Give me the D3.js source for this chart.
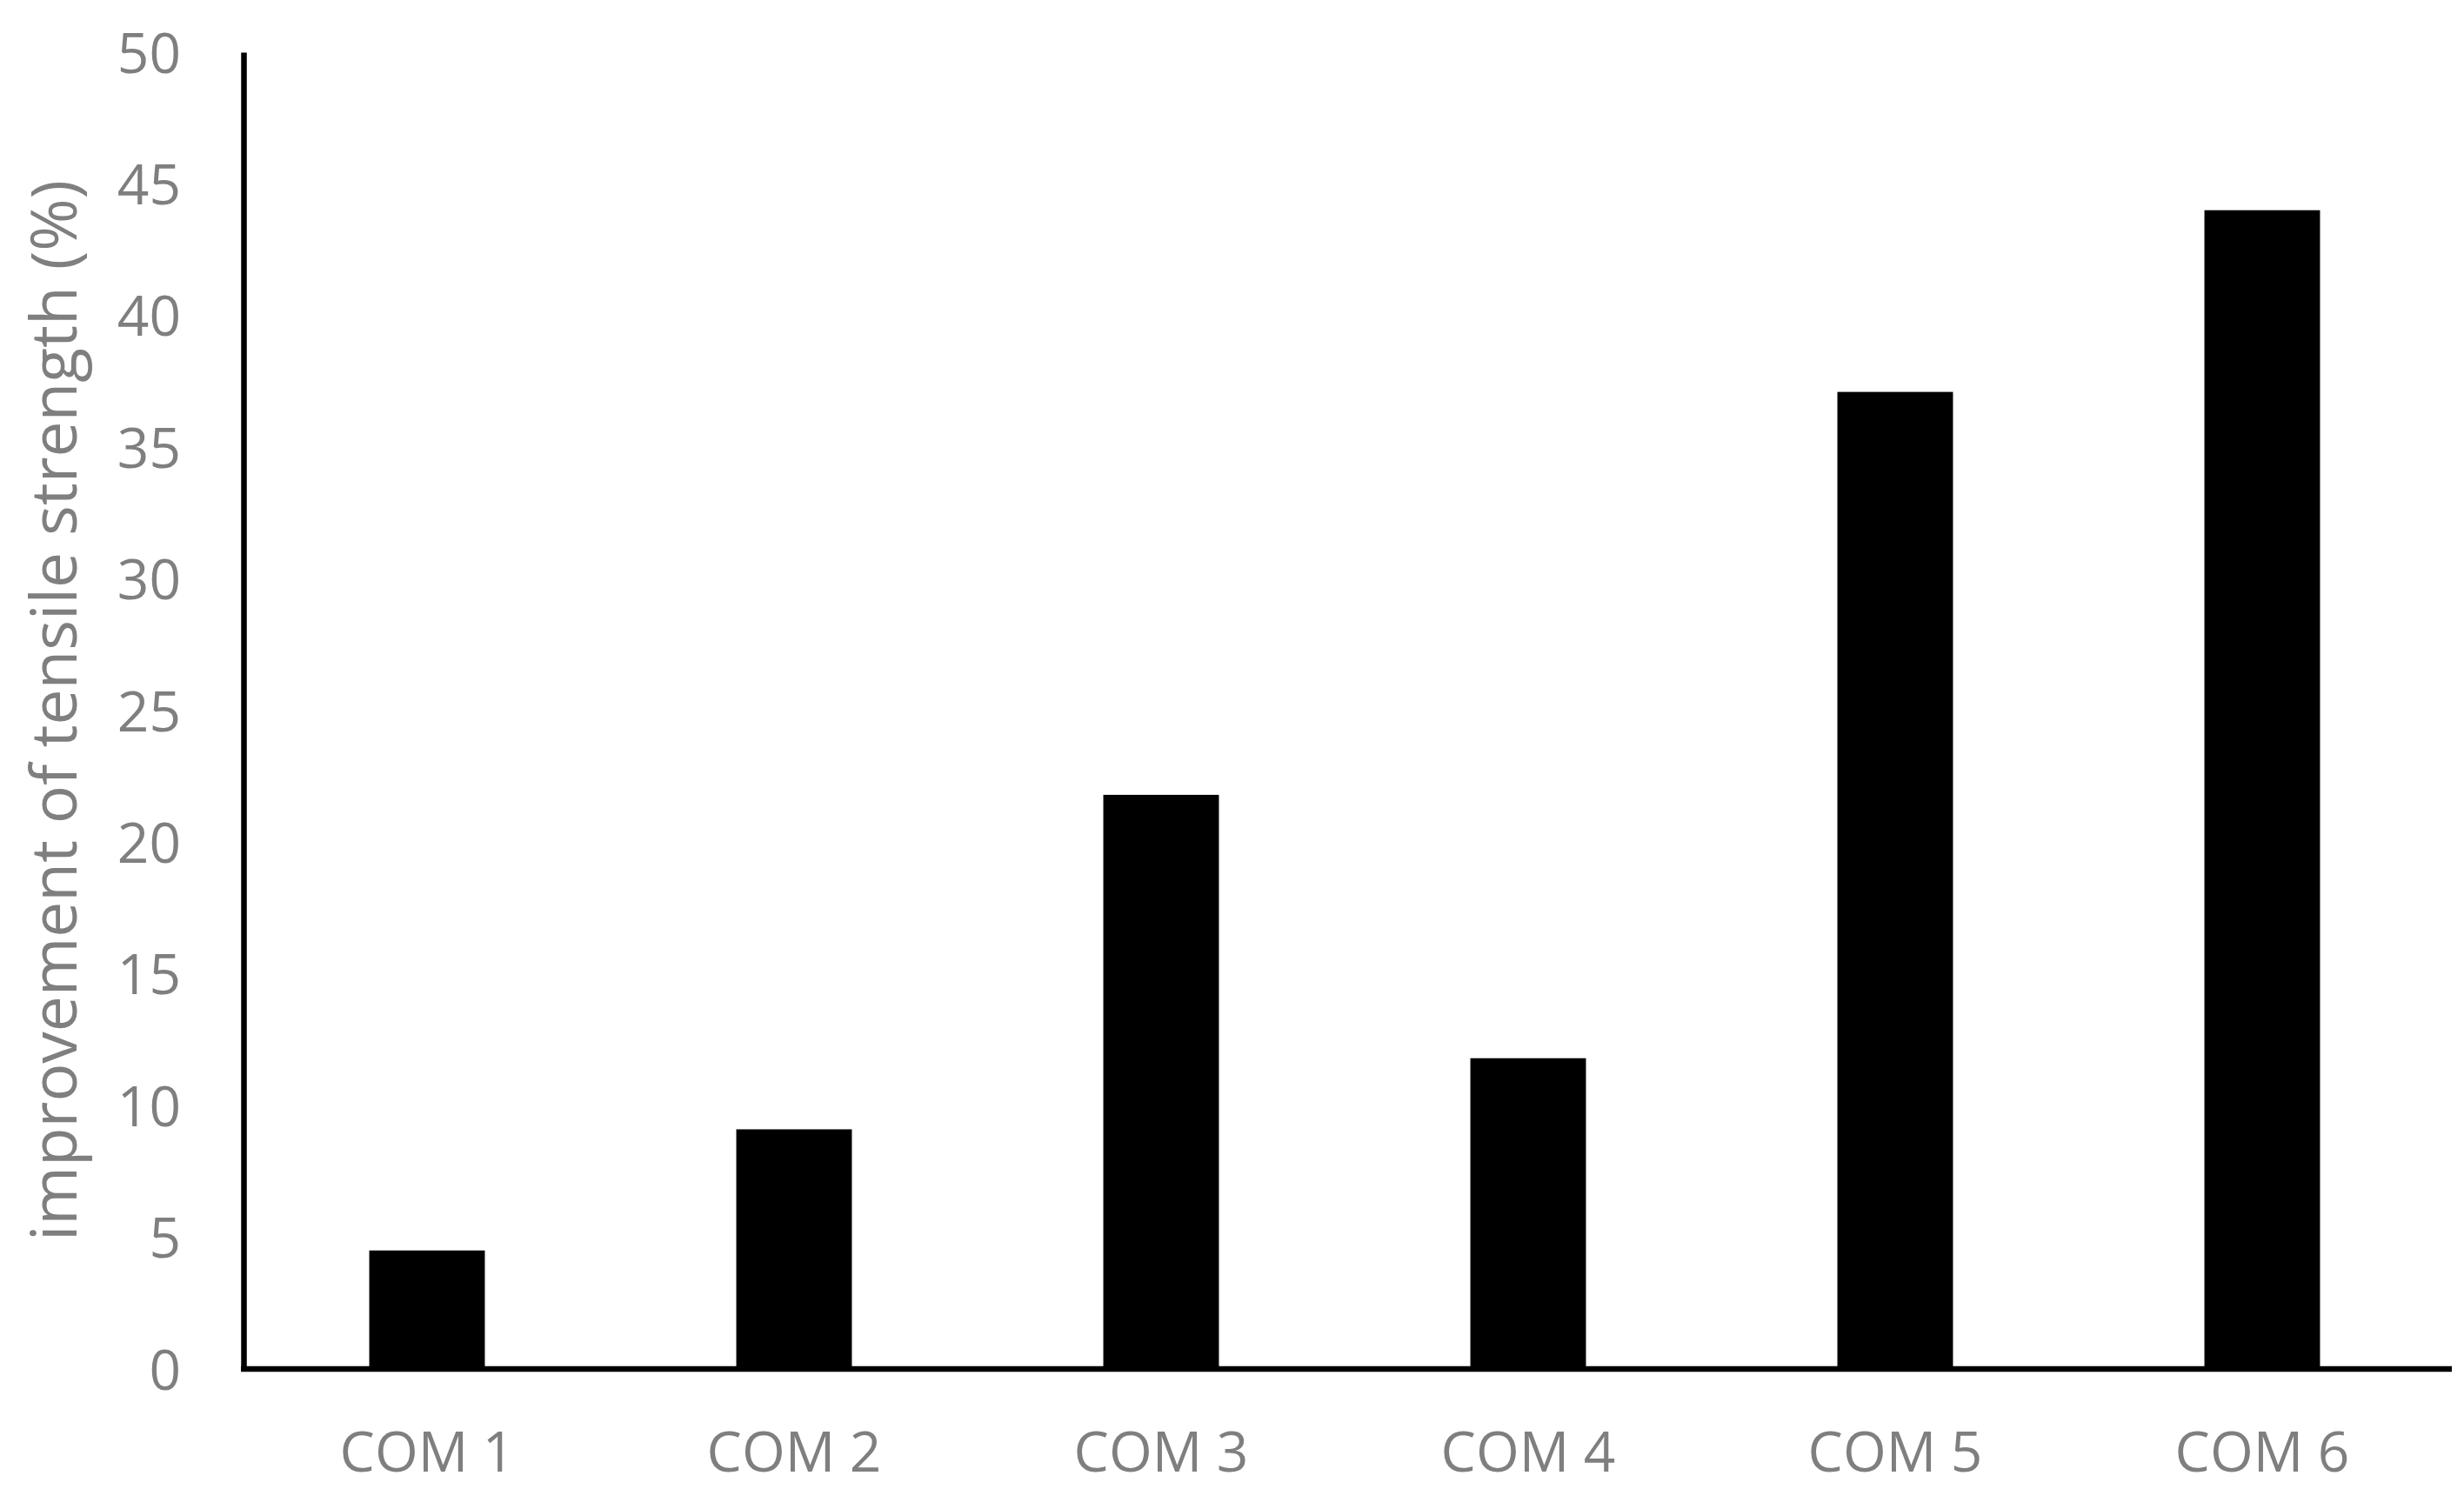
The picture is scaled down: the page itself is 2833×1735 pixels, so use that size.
<!DOCTYPE html>
<html>
<head>
<meta charset="utf-8">
<script src="https://cdn.jsdelivr.net/npm/d3@7"></script>
<style>
  html, body { margin: 0; padding: 0; background: #fff; }
  svg { display: block; }
</style>
</head>
<body>
<svg id="chart" width="2833" height="1735"></svg>
<script>
const categories = ["COM 1", "COM 2", "COM 3", "COM 4", "COM 5", "COM 6"];
const values = [4.5, 9.1, 21.8, 11.8, 37.1, 44.0];
const yTicks = [0, 5, 10, 15, 20, 25, 30, 35, 40, 45, 50];
const yTitle = "improvement of tensile strength (%)";

const svg = d3.select("#chart");
const grey = "#7f7f7f";
const font = "'Open Sans', 'Noto Sans', sans-serif";

const x = d3.scaleBand().domain(categories).range([280, 2812])
  .paddingInner(0.685).paddingOuter(0.3425);
const y = d3.scaleLinear().domain([0, 50]).range([1574, 60]);

// bars
svg.append("g").selectAll("rect").data(values).join("rect")
  .attr("x", (d, i) => x(categories[i]))
  .attr("width", x.bandwidth())
  .attr("y", d => y(d))
  .attr("height", d => y(0) - y(d))
  .attr("fill", "#000");

// y axis
const yAxis = svg.append("g").attr("transform", "translate(280,0)")
  .call(d3.axisLeft(y).tickValues(yTicks).tickSize(0).tickSizeOuter(0).tickPadding(72));
yAxis.select(".domain").attr("stroke", "#000").attr("stroke-width", 6.5);
yAxis.selectAll("text").attr("fill", grey).attr("font-family", font)
  .attr("font-size", 64).attr("dy", "0.36em");

// x axis
const xAxis = svg.append("g").attr("transform", `translate(0,${y(0)})`)
  .call(d3.axisBottom(x).tickSize(0).tickSizeOuter(0).tickPadding(73));
xAxis.select(".domain").attr("stroke", "#000").attr("stroke-width", 6.5)
  .attr("d", `M277,0H2819`);
xAxis.selectAll("text").attr("fill", grey).attr("font-family", font)
  .attr("font-size", 64).attr("dy", "0.71em");

// y title
svg.append("text")
  .attr("transform", `translate(88,${(y(0) + y(50)) / 2}) rotate(-90)`)
  .attr("text-anchor", "middle")
  .attr("fill", grey)
  .attr("font-family", font)
  .attr("font-size", 73)
  .text(yTitle);
</script>
</body>
</html>
